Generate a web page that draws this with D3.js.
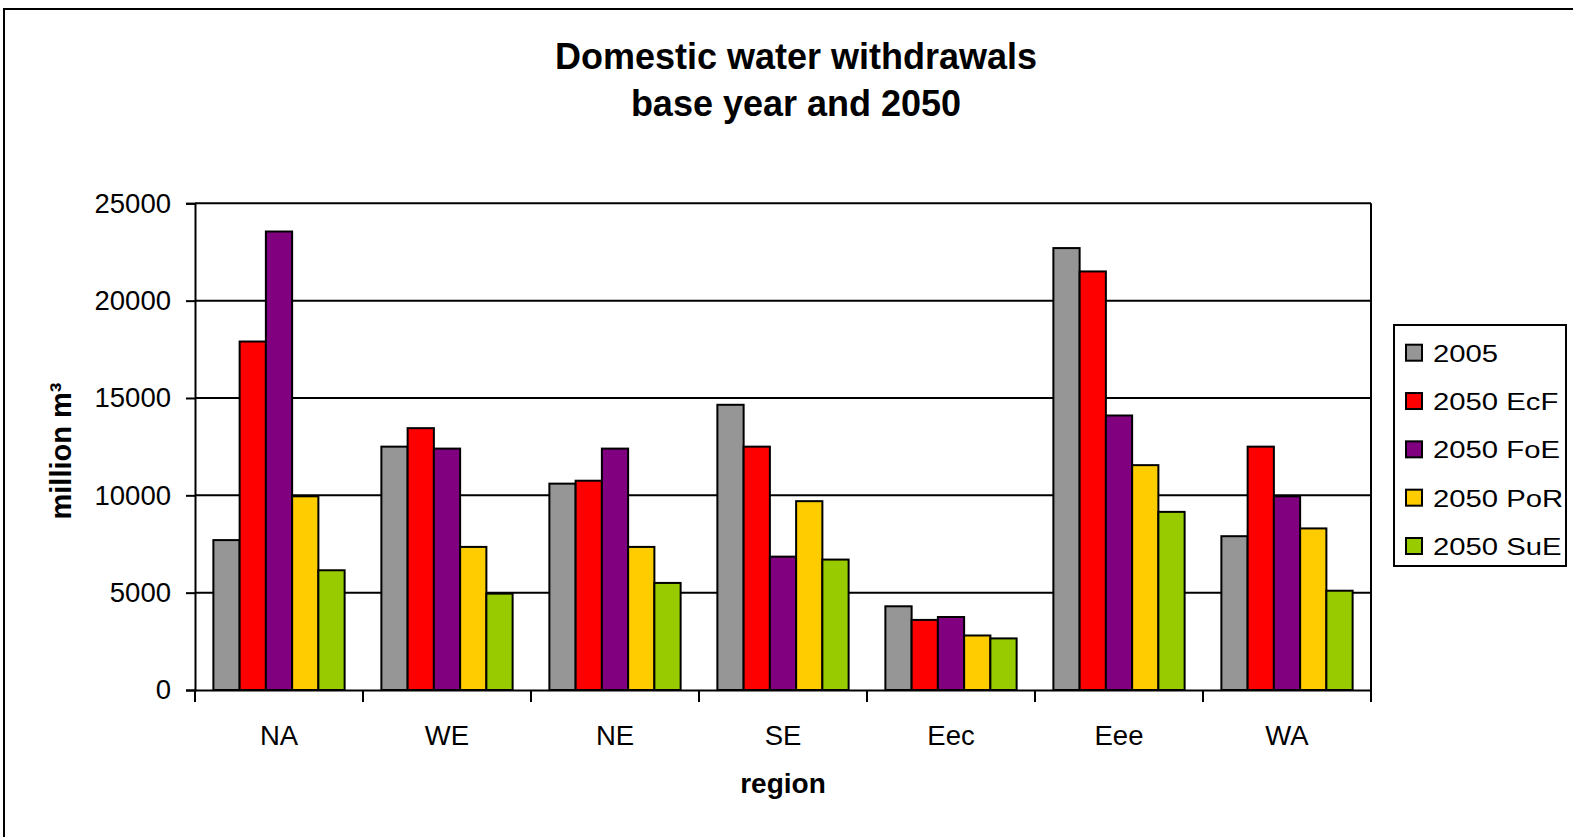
<!DOCTYPE html>
<html>
<head>
<meta charset="utf-8">
<script src="https://cdn.jsdelivr.net/npm/d3@7"></script>
<style>
  html, body { margin: 0; padding: 0; background: #fff; }
  svg { display: block; font-family: "Liberation Sans", Arial, sans-serif; }
</style>
</head>
<body>
<svg id="chart" width="1573" height="837"></svg>
<script>
const regions = ["NA", "WE", "NE", "SE", "Eec", "Eee", "WA"];
const seriesNames = ["2005", "2050 EcF", "2050 FoE", "2050 PoR", "2050 SuE"];
const s2005 = [7700, 12500, 10600, 14650, 4300, 22700, 7900];
const sEcF  = [17900, 13450, 10750, 12500, 3600, 21500, 12500];
const sFoE  = [23550, 12400, 12400, 6850, 3750, 14100, 9950];
const sPoR  = [9950, 7350, 7350, 9700, 2800, 11550, 8300];
const sSuE  = [6150, 4950, 5500, 6700, 2650, 9150, 5100];
const seriesValues = [s2005, sEcF, sFoE, sPoR, sSuE];
const colors = ["#969696", "#ff0000", "#800080", "#ffcc00", "#99cc00"];
const yTicks = [0, 5000, 10000, 15000, 20000, 25000];

(function () {
const svg = d3.select("#chart");

// outer chart border
svg.append("rect").attr("x", 4).attr("y", 9).attr("width", 1600).attr("height", 900)
  .attr("fill", "none").attr("stroke", "#000").attr("stroke-width", 2);

const pL = 195, pR = 1371, pT = 203.3, pB = 690;
const x0 = d3.scaleBand().domain(regions).range([pL, pR]).paddingInner(0).paddingOuter(0);
const x1 = d3.scaleBand().domain(seriesNames).range([0, x0.bandwidth()]).paddingInner(0).paddingOuter(0.7);
const y = d3.scaleLinear().domain([0, 25000]).range([pB, pT]);

// gridlines
svg.append("g").selectAll("line").data(yTicks.filter(d => d > 0)).join("line")
  .attr("x1", pL).attr("x2", pR)
  .attr("y1", d => y(d)).attr("y2", d => y(d))
  .attr("stroke", "#000").attr("stroke-width", 2);
// right border of plot area
svg.append("line").attr("x1", pR).attr("x2", pR).attr("y1", pT).attr("y2", pB)
  .attr("stroke", "#000").attr("stroke-width", 2);

// bars
const data = [];
regions.forEach((r, i) => seriesNames.forEach((s, j) => data.push({ r, s, j, v: seriesValues[j][i] })));
svg.append("g").selectAll("rect").data(data).join("rect")
  .attr("x", d => x0(d.r) + x1(d.s))
  .attr("width", x1.bandwidth())
  .attr("y", d => y(d.v))
  .attr("height", d => y(0) - y(d.v))
  .attr("fill", d => colors[d.j])
  .attr("stroke", "#000").attr("stroke-width", 2);

// y axis
const yAxis = svg.append("g").attr("transform", `translate(${pL},0)`)
  .call(d3.axisLeft(y).tickValues(yTicks).tickSize(9).tickPadding(15).tickFormat(d3.format("d")));
yAxis.select(".domain").attr("stroke", "#000").attr("stroke-width", 2);
yAxis.selectAll(".tick line").attr("stroke", "#000").attr("stroke-width", 2);
yAxis.selectAll("text").attr("font-size", 27.5).attr("fill", "#000")
  .attr("font-family", "Liberation Sans, Arial, sans-serif");

// x axis
const xAxis = svg.append("g").attr("transform", `translate(0,${pB})`)
  .call(d3.axisBottom(x0).tickSize(0).tickPadding(0));
xAxis.select(".domain").attr("stroke", "#000").attr("stroke-width", 2);
xAxis.selectAll("text").attr("font-size", 27.5).attr("fill", "#000").attr("dy", null).attr("y", 55)
  .attr("font-family", "Liberation Sans, Arial, sans-serif");
// category separator ticks
const boundaries = regions.map(r => x0(r)).concat([x0(regions[regions.length - 1]) + x0.bandwidth()]);
svg.append("g").selectAll("line").data(boundaries).join("line")
  .attr("x1", d => d).attr("x2", d => d).attr("y1", pB).attr("y2", pB + 12)
  .attr("stroke", "#000").attr("stroke-width", 2);

// titles
const title = svg.append("text").attr("x", 796).attr("text-anchor", "middle")
  .attr("font-size", 36).attr("font-weight", "bold").attr("fill", "#000");
title.append("tspan").attr("x", 796).attr("y", 69).text("Domestic water withdrawals");
title.append("tspan").attr("x", 796).attr("y", 116).text("base year and 2050");

svg.append("text").attr("x", (pL + pR) / 2).attr("y", 793).attr("text-anchor", "middle")
  .attr("font-size", 28).attr("font-weight", "bold").text("region");

svg.append("text").attr("transform", "translate(71,451) rotate(-90)").attr("text-anchor", "middle")
  .attr("font-size", 29).attr("font-weight", "bold").text("million m³");

// legend
const legend = svg.append("g");
legend.append("rect").attr("x", 1394).attr("y", 325).attr("width", 172).attr("height", 241)
  .attr("fill", "#fff").attr("stroke", "#000").attr("stroke-width", 2);
const ly = d3.scalePoint().domain(seriesNames).range([352.7, 546]);
const items = legend.selectAll("g.item").data(seriesNames).join("g").attr("class", "item")
  .attr("transform", d => `translate(1406,${ly(d)})`);
items.append("rect").attr("x", 0).attr("y", -8).attr("width", 16).attr("height", 16)
  .attr("fill", (d, i) => colors[i]).attr("stroke", "#000").attr("stroke-width", 2);
items.append("text").attr("transform", "translate(27,9) scale(1.22,1)")
  .attr("font-size", 24).attr("fill", "#000").text(d => d);
})();
</script>
</body>
</html>
